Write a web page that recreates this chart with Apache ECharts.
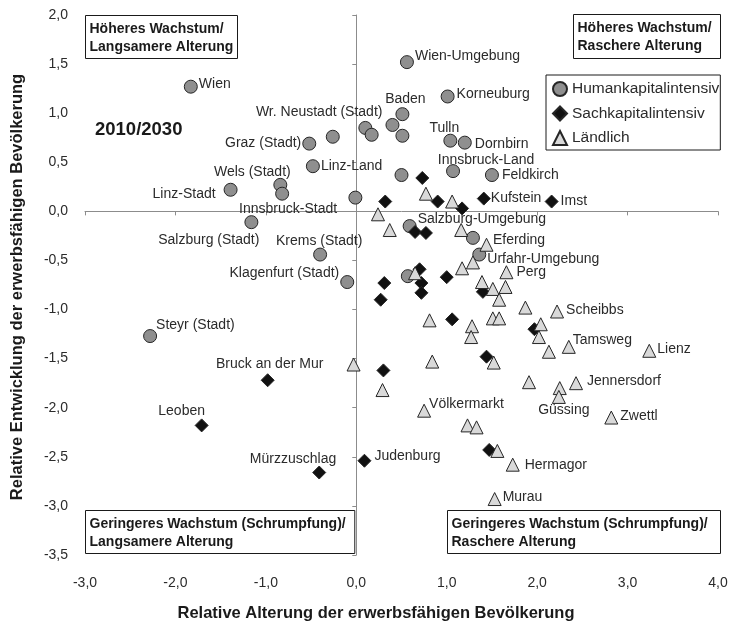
<!DOCTYPE html>
<html>
<head>
<meta charset="utf-8">
<script src="https://cdn.jsdelivr.net/npm/echarts@6/dist/echarts.min.js"></script>
<style>
  html, body { margin: 0; padding: 0; background: #fff; }
  #chart { width: 733px; height: 626px; }
</style>
</head>
<body>
<div id="chart"></div>
<script>
// Relative ageing (x) vs. relative development (y) of the working-age population, 2010/2030

// Humankapitalintensiv regions
const humanNames = ['Wien', 'Wien-Umgebung', 'Korneuburg', 'Baden', '', '', 'Wr. Neustadt (Stadt)', '',
  'Tulln', 'Dornbirn', 'Innsbruck-Land', 'Feldkirch', '', 'Graz (Stadt)', '', 'Linz-Land',
  'Wels (Stadt)', 'Innsbruck-Stadt', 'Linz-Stadt', '', 'Salzburg (Stadt)', 'Krems (Stadt)',
  'Klagenfurt (Stadt)', 'Steyr (Stadt)', 'Salzburg-Umgebung', 'Eferding', 'Urfahr-Umgebung', ''];
const humanX = [-1.83, 0.56, 1.01, 0.51, 0.10, 0.17, 0.40, 0.51,
  1.04, 1.20, 1.07, 1.50, 0.50, -0.52, -0.26, -0.48,
  -0.84, -0.82, -1.39, -0.01, -1.16, -0.40,
  -0.10, -2.28, 0.59, 1.29, 1.36, 0.57];
const humanY = [1.27, 1.52, 1.17, 0.99, 0.85, 0.78, 0.88, 0.77,
  0.72, 0.70, 0.41, 0.37, 0.37, 0.69, 0.76, 0.46,
  0.27, 0.18, 0.22, 0.14, -0.11, -0.44,
  -0.72, -1.27, -0.15, -0.27, -0.44, -0.66];

// Sachkapitalintensiv regions
const sachNames = ['', '', '', '', 'Kufstein', 'Imst', '', '', '', '', '', '', '', '', '', '',
  '', '', '', '', 'Judenburg', 'Mürzzuschlag', 'Bruck an der Mur', 'Leoben'];
const sachX = [0.73, 0.32, 0.90, 1.17, 1.41, 2.16, 0.65, 0.77, 0.70, 0.72, 0.72, 0.31, 0.27, 1.00, 1.40, 1.06,
  1.97, 1.44, 0.30, 1.47, 0.09, -0.41, -0.98, -1.71];
const sachY = [0.34, 0.10, 0.10, 0.03, 0.13, 0.10, -0.21, -0.22, -0.59, -0.73, -0.83, -0.73, -0.90, -0.67, -0.82, -1.10,
  -1.20, -1.48, -1.62, -2.43, -2.54, -2.66, -1.72, -2.18];

// Ländliche regions
const landNames = ['', '', '', '', '', '', '', '', '', 'Perg', '', '', '', '', '', 'Scheibbs',
  '', '', '', '', '', '', '', 'Tamsweg', '', 'Lienz', '', '', '', '', 'Jennersdorf', '', 'Güssing',
  '', 'Völkermarkt', '', '', 'Zwettl', '', 'Hermagor', 'Murau'];
const landX = [0.77, 1.06, 0.24, 0.37, 1.16, 1.44, 1.29, 1.17, 0.65, 1.66, 1.39, 1.65, 1.51, 1.58, 1.87, 2.22,
  0.81, 1.51, 1.58, 1.28, 1.27, 2.04, 2.02, 2.35, 2.13, 3.24, -0.03, 0.84, 1.52, 1.91, 2.43, 2.25, 2.24,
  0.29, 0.75, 1.23, 1.33, 2.82, 1.56, 1.73, 1.53];
const landY = [0.18, 0.10, -0.03, -0.19, -0.19, -0.34, -0.52, -0.58, -0.63, -0.62, -0.72, -0.77, -0.79, -0.90, -0.98, -1.02,
  -1.11, -1.09, -1.09, -1.17, -1.28, -1.15, -1.28, -1.38, -1.43, -1.42, -1.56, -1.53, -1.54, -1.74, -1.75, -1.80, -1.89,
  -1.82, -2.03, -2.18, -2.20, -2.10, -2.44, -2.58, -2.93];

// Axis ranges and tick steps
const xMin = -3, xMax = 4, xStep = 1;
const yMin = -3.5, yMax = 2, yStep = 0.5;

// Label placement next to each named point: [dx, dy, align]
const labelPlace = {
  'Wien': [8, -3, 'left'], 'Wien-Umgebung': [8, -6, 'left'], 'Korneuburg': [9, -2, 'left'],
  'Baden': [3, -15, 'center'], 'Wr. Neustadt (Stadt)': [-10, -13, 'right'], 'Tulln': [-6, -13, 'center'],
  'Dornbirn': [10, 2, 'left'], 'Innsbruck-Land': [33, -11, 'center'], 'Feldkirch': [10, 0, 'left'],
  'Graz (Stadt)': [-8, 0, 'right'], 'Linz-Land': [8, 0, 'left'], 'Wels (Stadt)': [-28, -13, 'center'],
  'Innsbruck-Stadt': [6, 15, 'center'], 'Linz-Stadt': [-15, 4, 'right'], 'Salzburg (Stadt)': [8, 18, 'right'],
  'Krems (Stadt)': [-1, -13, 'center'], 'Klagenfurt (Stadt)': [-8, -9, 'right'], 'Steyr (Stadt)': [6, -11, 'left'],
  'Salzburg-Umgebung': [8, -7, 'left'], 'Eferding': [20, 2, 'left'], 'Urfahr-Umgebung': [8, 5, 'left'],
  'Kufstein': [7, 0, 'left'], 'Imst': [9, 0, 'left'], 'Bruck an der Mur': [2, -16, 'center'],
  'Leoben': [-20, -14, 'center'], 'Mürzzuschlag': [17, -13, 'right'], 'Judenburg': [10, -5, 'left'],
  'Perg': [10, 0, 'left'], 'Scheibbs': [9, -1, 'left'], 'Tamsweg': [4, -7, 'left'], 'Lienz': [8, -2, 'left'],
  'Jennersdorf': [11, -2, 'left'], 'Güssing': [5, 13, 'center'], 'Zwettl': [9, -1, 'left'],
  'Völkermarkt': [5, -7, 'left'], 'Hermagor': [12, 0, 'left'], 'Murau': [8, -2, 'left']
};

const FONT = '"Liberation Sans", Arial, Helvetica, sans-serif';
const TEXT = '#2b2b2b';
const AXIS = '#8c8c8c';

const W = 733, H = 626;
const grid = { left: 85, right: 15, top: 15, bottom: 71 };

function fmt(v) { return v.toFixed(1).replace('.', ','); }

function points(names, xs, ys) {
  return xs.map((x, i) => {
    const item = { value: [x, ys[i]], name: names[i] };
    const p = labelPlace[names[i]];
    if (names[i] && p) {
      item.label = {
        show: true, position: 'inside', offset: [p[0], p[1]], align: p[2], verticalAlign: 'middle',
        formatter: names[i], color: TEXT, fontSize: 14, fontFamily: FONT
      };
    }
    return item;
  });
}

function scatter(name, symbol, size, fill, names, xs, ys, z) {
  return {
    type: 'scatter', name, symbol, symbolSize: size, z,
    xAxisIndex: 0, yAxisIndex: 0,
    itemStyle: { color: fill, borderColor: '#262626', borderWidth: 1, opacity: 1 },
    label: { show: false },
    emphasis: { disabled: true },
    data: points(names, xs, ys)
  };
}

// Framed quadrant captions
function box(x, y, w, h, lines) {
  return {
    type: 'group', left: x, top: y, z: 20,
    children: [
      { type: 'rect', shape: { x: 0, y: 0, width: w, height: h },
        style: { fill: '#fff', stroke: '#1a1a1a', lineWidth: 1 } },
      { type: 'text', x: 4, y: 5,
        style: { text: lines.join('\n'), font: 'bold 14px ' + FONT, fill: '#1a1a1a', lineHeight: 18 } }
    ]
  };
}

const plotL = grid.left, plotR = W - grid.right, plotT = grid.top, plotB = H - grid.bottom;
const x0 = plotL + (0 - xMin) / (xMax - xMin) * (plotR - plotL);
const x1 = plotL + (1 - xMin) / (xMax - xMin) * (plotR - plotL);
const titleFont = 'bold 16.5px ' + FONT;

const chart = echarts.init(document.getElementById('chart'), null, { renderer: 'canvas' });
chart.setOption({
  animation: false,
  backgroundColor: '#fff',
  textStyle: { fontFamily: FONT },
  grid: { left: grid.left, right: grid.right, top: grid.top, bottom: grid.bottom, containLabel: false },
  xAxis: [
    { type: 'value', min: xMin, max: xMax, interval: xStep, position: 'bottom',
      axisLine: { show: false, onZero: false }, axisTick: { show: false }, splitLine: { show: false },
      axisLabel: { formatter: fmt, margin: 21, color: TEXT, fontSize: 14, fontFamily: FONT } },
    { type: 'value', min: xMin, max: xMax, interval: xStep, position: 'top',
      axisLine: { show: true, onZero: true, lineStyle: { color: AXIS, width: 1 } },
      axisTick: { show: true, inside: true, length: 4, lineStyle: { color: AXIS } },
      axisLabel: { show: false }, splitLine: { show: false } }
  ],
  yAxis: [
    { type: 'value', min: yMin, max: yMax, interval: yStep, position: 'left',
      axisLine: { show: false, onZero: false }, axisTick: { show: false }, splitLine: { show: false },
      axisLabel: { formatter: fmt, margin: 17, color: TEXT, fontSize: 14, fontFamily: FONT } },
    { type: 'value', min: yMin, max: yMax, interval: yStep, position: 'right',
      axisLine: { show: true, onZero: true, lineStyle: { color: AXIS, width: 1 } },
      axisTick: { show: true, inside: true, length: 4, lineStyle: { color: AXIS } },
      axisLabel: { show: false }, splitLine: { show: false } }
  ],
  legend: {
    orient: 'vertical', left: 546, top: 75, padding: [6, 1, 4, 6], itemGap: 8.5,
    itemWidth: 14, itemHeight: 14, borderColor: '#1a1a1a', borderWidth: 1, backgroundColor: '#fff',
    selectedMode: false, z: 20,
    textStyle: { fontSize: 15.5, color: TEXT, fontFamily: FONT },
    data: [
      { name: 'Humankapitalintensiv', icon: 'circle' },
      { name: 'Sachkapitalintensiv', icon: 'diamond' },
      { name: 'Ländlich', icon: 'triangle' }
    ]
  },
  graphic: [
    box(plotL, plotT, 152, 43, ['Höheres Wachstum/', 'Langsamere Alterung']),
    box(573, plotT - 1, plotR + 2 - 573, 44, ['Höheres Wachstum/', 'Raschere Alterung']),
    box(plotL, 510, x0 - 2 - plotL, 43, ['Geringeres Wachstum (Schrumpfung)/', 'Langsamere Alterung']),
    box(Math.round(x1), 510, plotR + 2 - Math.round(x1), 43, ['Geringeres Wachstum (Schrumpfung)/', 'Raschere Alterung']),
    { type: 'text', left: 95, top: 120, z: 20,
      style: { text: '2010/2030', font: 'bold 18.5px ' + FONT, fill: '#1a1a1a' } },
    // axis titles
    { type: 'text', x: 376, y: 613, z: 20,
      style: { text: 'Relative Alterung der erwerbsfähigen Bevölkerung', font: titleFont, fill: '#1a1a1a',
        align: 'center', verticalAlign: 'middle' } },
    { type: 'text', x: 17.5, y: 287, rotation: Math.PI / 2, z: 20,
      style: { text: 'Relative Entwicklung der erwerbsfähigen Bevölkerung', font: titleFont, fill: '#1a1a1a',
        align: 'center', verticalAlign: 'middle' } }
  ],
  series: [
    scatter('Humankapitalintensiv', 'circle', 13, '#8f8f8f', humanNames, humanX, humanY, 2),
    scatter('Sachkapitalintensiv', 'diamond', 13, '#111111', sachNames, sachX, sachY, 3),
    scatter('Ländlich', 'triangle', 13, '#d9d9d9', landNames, landX, landY, 4)
  ]
});
</script>
</body>
</html>
